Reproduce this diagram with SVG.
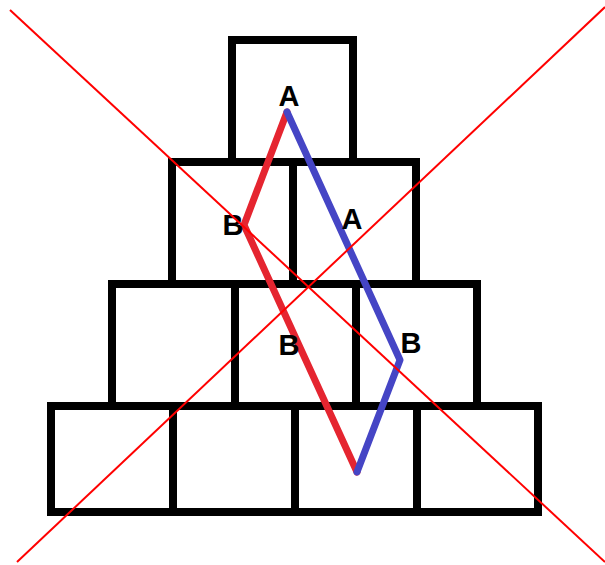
<svg xmlns="http://www.w3.org/2000/svg" width="605" height="565" viewBox="0 0 605 565">
<style>
.box{fill:none;stroke:#000;stroke-width:8;stroke-linecap:square}
.lbl{font-family:"Liberation Sans",Arial,sans-serif;font-weight:bold;font-size:29px;fill:#000;text-anchor:middle}
.path{fill:none;stroke-width:7;stroke-linecap:round;stroke-linejoin:round}
.cross{stroke:#ff0000;stroke-width:2;fill:none}
</style>
<rect width="605" height="565" fill="#fff"/>
<g id="row1"><rect class="box" x="232" y="40" width="121" height="122"/></g>
<g id="row2">
<rect class="box" x="172" y="162" width="121" height="122"/>
<rect class="box" x="293" y="162" width="123" height="122"/>
</g>
<g id="row3">
<rect class="box" x="112" y="284" width="123" height="122"/>
<rect class="box" x="235" y="284" width="121" height="122"/>
<rect class="box" x="356" y="284" width="121" height="122"/>
</g>
<g id="row4">
<rect class="box" x="51" y="406" width="122" height="106"/>
<rect class="box" x="173" y="406" width="122" height="106"/>
<rect class="box" x="295" y="406" width="122" height="106"/>
<rect class="box" x="417" y="406" width="121" height="106"/>
</g>
<g id="connectors">
<polyline class="path" stroke="#e52530" points="287,112 244,225 357,472"/>
<polyline class="path" stroke="#4545c5" points="287,112 400,360 357,472"/>
</g>
<g id="labels">
<text class="lbl" x="289" y="106">A</text>
<text class="lbl" x="233" y="235">B</text>
<text class="lbl" x="352" y="229">A</text>
<text class="lbl" x="289" y="355">B</text>
<text class="lbl" x="411" y="353">B</text>
</g>
<g id="cross">
<line class="cross" x1="10" y1="10" x2="605" y2="562"/>
<line class="cross" x1="17" y1="562" x2="605" y2="7"/>
</g>
</svg>
